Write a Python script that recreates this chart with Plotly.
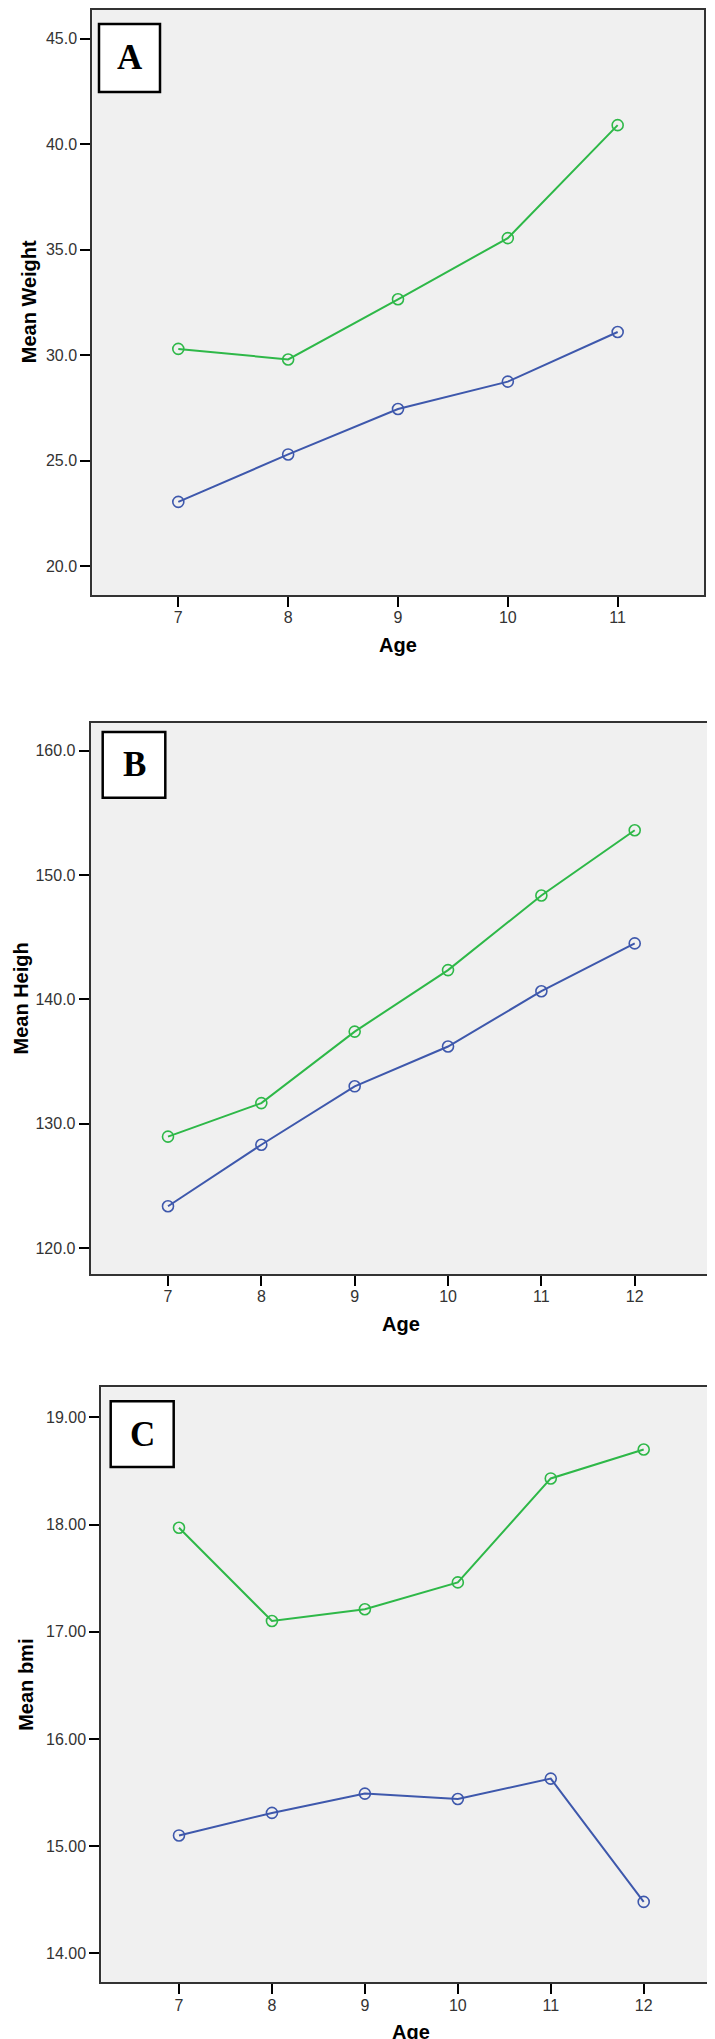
import plotly.graph_objects as go

W, H = 715, 2039

# data
age_a = [7, 8, 9, 10, 11]
age_bc = [7, 8, 9, 10, 11, 12]

weight_blue = [23.05, 25.3, 27.45, 28.75, 31.1]
weight_green = [30.3, 29.8, 32.65, 35.55, 40.9]

height_blue = [123.35, 128.3, 133.0, 136.2, 140.65, 144.5]
height_green = [128.95, 131.65, 137.4, 142.35, 148.35, 153.6]

bmi_blue = [15.10, 15.31, 15.49, 15.44, 15.63, 14.48]
bmi_green = [17.97, 17.10, 17.21, 17.46, 18.43, 18.70]

weight_ticks = [20, 25, 30, 35, 40, 45]
height_ticks = [120, 130, 140, 150, 160]
bmi_ticks = [14, 15, 16, 17, 18, 19]

BLUE = "#3E58AC"
GREEN = "#2EB848"


def fx(x):
    return x / W


def fy(y):
    return 1 - y / H


# pixel frames: left, right, top, bottom
panels = [
    dict(letter="A", ages=age_a, blue=weight_blue, green=weight_green,
         ytitle="Mean Weight", yticks=weight_ticks, yfmt=".1f",
         yrange=[18.64, 46.38], xrange=[6.217, 11.786],
         frame=(84.3, 696, 1.5, 587), box=(91, 152, 16, 84), ytx=21),
    dict(letter="B", ages=age_bc, blue=height_blue, green=height_green,
         ytitle="Mean Heigh", yticks=height_ticks, yfmt=".1f",
         yrange=[117.9, 162.23], xrange=[6.172, 12.828],
         frame=(82.7, 704, 715, 1266), box=(94.7, 157.3, 724, 789.7), ytx=12),
    dict(letter="C", ages=age_bc, blue=bmi_blue, green=bmi_green,
         ytitle="Mean bmi", yticks=bmi_ticks, yfmt=".2f",
         yrange=[13.73, 19.28], xrange=[6.164, 12.835],
         frame=(93.3, 713.3, 1379.3, 1974.3), box=(102.7, 165.7, 1393.3, 1459), ytx=18),
]

fig = go.Figure()
axis_style = dict(showline=True, mirror=True, linecolor="#333", linewidth=2,
                  ticks="outside", ticklen=10, tickwidth=2, tickcolor="black",
                  showgrid=False, zeroline=False, ticklabelstandoff=0,
                  tickfont=dict(family="Liberation Sans, Arial", size=16, color="#333"))
title_font = dict(family="Liberation Sans, Arial", size=20, color="black")

for i, p in enumerate(panels, start=1):
    sfx = "" if i == 1 else str(i)
    l, r, t, b = p["frame"]
    for vals, col, nm in [(p["blue"], BLUE, "Group 1"), (p["green"], GREEN, "Group 2")]:
        fig.add_trace(go.Scatter(
            x=p["ages"], y=vals, mode="lines+markers", name=nm,
            xaxis="x" + sfx, yaxis="y" + sfx, showlegend=False,
            line=dict(color=col, width=2),
            marker=dict(symbol="circle-open", size=11, color=col, line=dict(width=1.6)),
        ))
    fig.layout["xaxis" + sfx] = dict(axis_style, domain=[fx(l), fx(r)], range=p["xrange"],
                                     tickvals=p["ages"], anchor="y" + sfx,
                                     ticklabelstandoff=-3)
    fig.layout["yaxis" + sfx] = dict(axis_style, domain=[fy(b), fy(t)], range=p["yrange"],
                                     tickvals=p["yticks"], tickformat=p["yfmt"],
                                     anchor="x" + sfx)
    # letter box
    bl, br, bt, bb = p["box"]
    fig.add_shape(type="rect", xref="paper", yref="paper",
                  x0=fx(bl), x1=fx(br), y0=fy(bb), y1=fy(bt),
                  fillcolor="white", line=dict(color="black", width=2.5), layer="above")
    fig.add_annotation(x=fx((bl + br) / 2), y=fy((bt + bb) / 2), xref="paper", yref="paper",
                       xanchor="center", yanchor="middle",
                       text="<b>" + p["letter"] + "</b>", showarrow=False,
                       font=dict(family="Liberation Serif, Times New Roman", size=35, color="black"))
    # axis titles
    fig.add_annotation(x=fx(p["ytx"]), y=fy((t + b) / 2), xref="paper", yref="paper",
                       xanchor="center", yanchor="middle", borderpad=0,
                       text="<b>" + p["ytitle"] + "</b>", textangle=-90, showarrow=False,
                       font=title_font)
    fig.add_annotation(x=fx((l + r) / 2), y=fy(b + 50), xref="paper", yref="paper",
                       xanchor="center", yanchor="middle", borderpad=0,
                       text="<b>Age</b>", showarrow=False, font=title_font)

fig.update_layout(width=W, height=H, margin=dict(l=0, r=0, t=0, b=0),
                  paper_bgcolor="white", plot_bgcolor="#F0F0F0")

fig.write_html("out.html")
